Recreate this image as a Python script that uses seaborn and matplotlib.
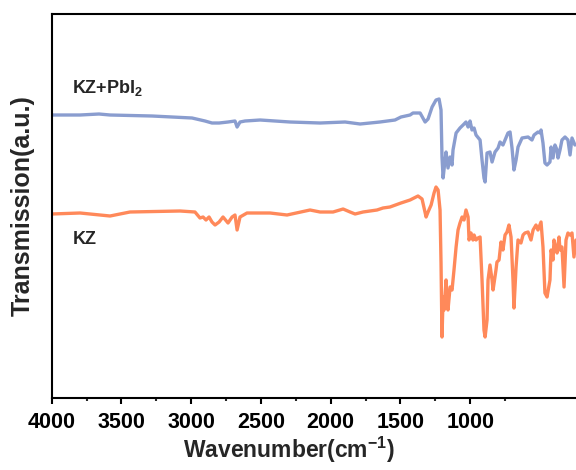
import matplotlib
matplotlib.use("Agg")
import matplotlib.pyplot as plt
from matplotlib.ticker import FixedLocator
import seaborn as sns
import pandas as pd

# FTIR spectra, transmission in arbitrary units (curves offset vertically)
wn_kz_pbi2 = [4000, 3797, 3661, 3582, 3281, 2994, 2901, 2851, 2800, 2736, 2686, 2671,
              2650, 2614, 2506, 2291, 2076, 1897, 1789, 1647, 1539, 1496, 1431, 1410,
              1359, 1323, 1302, 1273, 1245, 1223, 1209, 1202, 1194, 1180, 1173, 1159,
              1144, 1130, 1123, 1101, 1073, 1051, 1030, 1015, 1001, 987, 972, 958, 929,
              915, 901, 893, 879, 858, 843, 822, 800, 786, 765, 750, 729, 714, 700, 686,
              671, 657, 628, 585, 557, 542, 514, 499, 492, 478, 464, 449, 428, 420, 406,
              392, 377, 370, 356, 342, 320, 299, 284, 270, 249]
t_kz_pbi2 = [285, 285, 286, 285, 284, 282, 279, 277, 277, 278, 279, 273,
             278, 279, 280, 278, 277, 278, 276, 278, 280, 283, 285, 287,
             287, 278, 281, 293, 300, 301, 290, 243, 222, 240, 248, 232,
             243, 235, 250, 267, 272, 275, 278, 273, 279, 270, 272, 265, 260,
             240, 222, 218, 247, 248, 238, 248, 252, 258, 255, 260, 267, 268, 252, 230,
             240, 253, 262, 263, 260, 265, 268, 267, 270, 257, 237, 235, 238, 253, 242,
             255, 250, 242, 250, 260, 263, 260, 245, 262, 255]

wn_kz = [4000, 3797, 3582, 3439, 3080, 2973, 2937, 2915, 2894, 2872, 2851, 2829,
         2800, 2772, 2736, 2707, 2686, 2671, 2650, 2600, 2435, 2313, 2148, 2076,
         1983, 1911, 1861, 1825, 1768, 1668, 1625, 1575, 1496, 1431, 1374, 1345,
         1316, 1302, 1280, 1259, 1245, 1230, 1216, 1209, 1202, 1194, 1187, 1173,
         1166, 1159, 1144, 1130, 1116, 1101, 1087, 1073, 1058, 1044, 1030, 1015,
         1008, 994, 980, 972, 958, 944, 929, 915, 901, 893, 879, 872, 858, 843,
         836, 815, 808, 793, 779, 765, 750, 736, 722, 707, 693, 686, 671, 657,
         636, 621, 607, 585, 564, 549, 528, 514, 492, 478, 464, 449, 428, 420,
         406, 399, 385, 377, 363, 356, 342, 327, 313, 299, 284, 270, 256, 241]
t_kz = [186, 187, 184, 188, 189, 188, 182, 183, 180, 183, 178, 175,
        178, 183, 177, 183, 185, 170, 183, 187, 187, 185, 190, 188,
        188, 191, 188, 186, 188, 190, 192, 193, 197, 200, 204, 201,
        183, 188, 195, 207, 213, 210, 190, 137, 63, 103, 90, 120,
        100, 90, 113, 110, 130, 153, 170, 177, 183, 180, 190, 183,
        160, 167, 160, 165, 160, 162, 163, 120, 70, 63, 80, 120, 135, 120,
        110, 130, 138, 140, 158, 150, 165, 168, 175, 163, 120, 92, 133, 160,
        157, 165, 167, 168, 160, 170, 175, 170, 178, 153, 107, 103, 120, 150,
        140, 160, 150, 147, 163, 150, 153, 113, 160, 167, 165, 167, 143, 160]

labels = ["KZ+PbI$_\\mathbf{2}$", "KZ"]
colors = ["#8a9dcf", "#ff895a"]
x_ticks = [4000, 3500, 3000, 2500, 2000, 1500, 1000]
x_minor = [3750, 3250, 2750, 2250, 1750, 1250, 750]

sns.set_style("ticks")
plt.rcParams["font.family"] = ["Liberation Sans", "DejaVu Sans"]
plt.rcParams["font.weight"] = "bold"
plt.rcParams["mathtext.fontset"] = "custom"
plt.rcParams["mathtext.rm"] = "Liberation Sans:bold"
plt.rcParams["mathtext.bf"] = "Liberation Sans:bold"
plt.rcParams["mathtext.it"] = "Liberation Sans:bold"

fig = plt.figure(figsize=(5.76, 4.70), dpi=100)
ax = fig.add_axes([0.0898, 0.1532, 0.9202, 0.8170])

df_a = pd.DataFrame({"wavenumber": wn_kz_pbi2, "T": t_kz_pbi2})
df_b = pd.DataFrame({"wavenumber": wn_kz, "T": t_kz})
sns.lineplot(data=df_a, x="wavenumber", y="T", ax=ax, color=colors[0],
             lw=2.4, estimator=None, sort=True)
sns.lineplot(data=df_b, x="wavenumber", y="T", ax=ax, color=colors[1],
             lw=2.4, estimator=None, sort=True)

ax.set_xlim(4000, 200)
ax.set_ylim(2, 386)
ax.set_xticks(x_ticks)
ax.xaxis.set_minor_locator(FixedLocator(x_minor))
ax.set_yticks([])

for side in ["left", "bottom", "top"]:
    ax.spines[side].set_linewidth(1.5)
    ax.spines[side].set_color("black")
ax.spines["right"].set_visible(False)

ax.tick_params(axis="x", which="major", direction="out", length=4, width=1.5,
               labelsize=15.5, pad=6, colors="black")
ax.tick_params(axis="x", which="minor", direction="out", length=2.5, width=1.5)
for lab in ax.get_xticklabels():
    lab.set_fontweight("bold")

ax.set_xlabel("Wavenumber(cm$^{\\mathbf{-1}}$)", fontsize=16.5, fontweight="bold")
ax.xaxis.set_label_coords(0.448, -0.095)
ax.set_ylabel("Transmission(a.u.)", fontsize=18, fontweight="bold", labelpad=12)

ax.text(3854, 307, labels[0], fontsize=13, fontweight="bold", va="baseline", ha="left")
ax.text(3847, 156, labels[1], fontsize=13, fontweight="bold", va="baseline", ha="left")

fig.savefig("out.png", dpi=100)
